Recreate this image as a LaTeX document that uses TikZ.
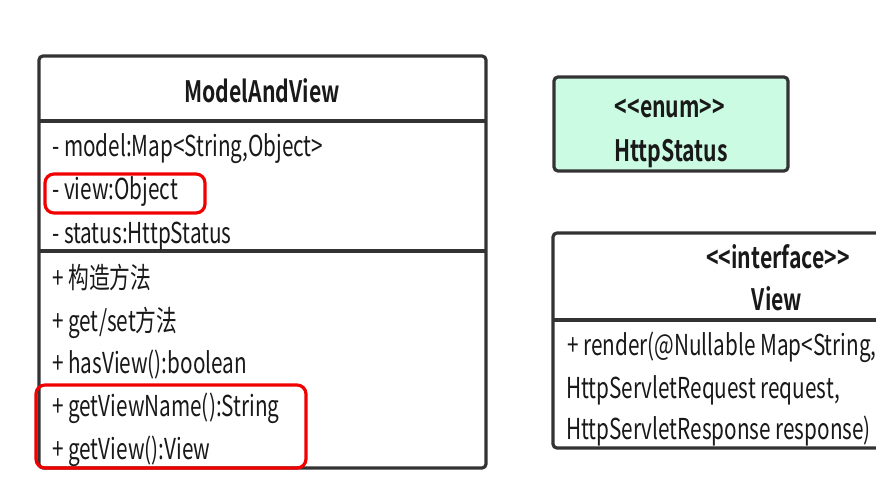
\documentclass[tikz,border=0pt]{standalone}
\usepackage{fontspec}
\setmainfont{Noto Sans CJK SC}[FakeStretch=0.72]
\newfontfamily\boldcjk{Noto Sans CJK SC Bold}[FakeStretch=0.72]
\definecolor{edge}{HTML}{333333}
\definecolor{mint}{HTML}{CCFBE3}
\definecolor{hl}{HTML}{F20000}
\tikzset{
  box/.style={draw=edge, line width=3.2pt, rounded corners=4pt},
  sep/.style={draw=edge, line width=3.4pt},
  hlbox/.style={draw=hl, line width=3.2pt, rounded corners=9pt},
  txt/.style={anchor=base west, inner sep=0pt, font=\fontsize{28.8}{29}\selectfont, text=black!90},
  ttl/.style={anchor=base, inner sep=0pt, font=\boldcjk\fontsize{29.5}{30}\selectfont, text=black!90},
}
\begin{document}
\begin{tikzpicture}[x=1pt,y=-1pt]
\useasboundingbox (0,0) rectangle (876,492);
\clip (0,0) rectangle (876,492);
\fill[white] (0,0) rectangle (876,492);
% ModelAndView
\draw[box, fill=white] (39,56) rectangle (486,468);
\draw[sep] (39,121) -- (486,121);
\draw[sep] (39,251) -- (486,251);
\node[ttl] (mavt) at (262,103) {ModelAndView};
\node[txt] (a1) at (52,157) {- model:Map<String,Object>};
\node[txt] (a2) at (52,200) {- view:Object};
\node[txt] (a3) at (52,243) {- status:HttpStatus};
\node[txt] (m1) at (52,288) {+ 构造方法};
\node[txt] (m2) at (52,331) {+ get/set方法};
\node[txt] (m3) at (52,373) {+ hasView():boolean};
\node[txt] (m4) at (52,416) {+ getViewName():String};
\node[txt] (m5) at (52,459) {+ getView():View};
\draw[hlbox] (45,174) rectangle (205,213);
\draw[hlbox] (36,385) rectangle (306,468);
% HttpStatus
\draw[box, fill=mint] (554,77) rectangle (788,171);
\node[ttl] (en) at (670,118) {<<enum>>};
\node[ttl] (hs) at (671,162) {HttpStatus};
% View
\draw[box, fill=white] (553,233) rectangle (920,448);
\draw[sep] (553,320) -- (920,320);
\node[ttl] (vi) at (778,268) {<<interface>>};
\node[ttl] (vn) at (777,310) {View};
\node[txt] (r1) at (567,355) {+ render(@Nullable Map<String,};
\node[txt] (r2) at (566,398) {HttpServletRequest request,};
\node[txt] (r3) at (566,439) {HttpServletResponse response)};
\end{tikzpicture}
\end{document}
